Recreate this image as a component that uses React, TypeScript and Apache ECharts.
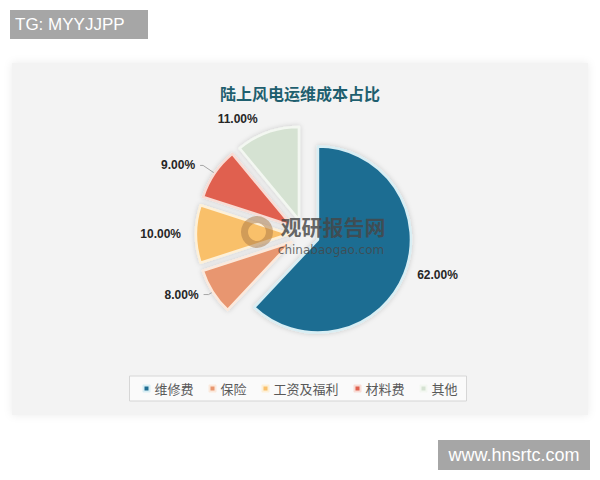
import React, { useEffect, useRef } from "react";
import * as echarts from "echarts";

const categories = ["维修费", "保险", "工资及福利", "材料费", "其他"];
const values = [62, 8, 10, 9, 11];
const colors = ["#1f6d92", "#e8966f", "#f9c06b", "#e0614f", "#d5e2d2"];
const borders = ["#d8eef4", "#fbe9dc", "#fdf0d8", "#f8dcd5", "#f3f7f1"];
const titleText = "陆上风电运维成本占比";

const lineLen = [4, 5, 5, 14, 14];
const lineLen2 = [4, 5, 5, 3, 0];

export default function App() {
  const ref = useRef<HTMLDivElement>(null);
  useEffect(() => {
    if (!ref.current) return;
    const chart = echarts.init(ref.current, undefined, { renderer: "svg" });
    const data = categories.map((name, i) => ({
      name,
      value: values[i],
      selected: true,
      itemStyle: { color: colors[i], borderColor: borders[i] },
      labelLine: {
        show: i === 1 || i === 3,
        length: lineLen[i],
        length2: lineLen2[i],
      },
    }));
    chart.setOption({
      animation: false,
      backgroundColor: "#ffffff",
      title: {
        text: titleText,
        left: "center",
        top: 80,
        textStyle: {
          fontFamily: "Noto Sans CJK SC",
          fontSize: 16,
          fontWeight: "bold",
          color: "#1f5f6f",
        },
      },
      legend: {
        data: categories,
        left: "center",
        top: 376,
        icon: "rect",
        itemWidth: 6,
        itemHeight: 6,
        itemGap: 15,
        borderColor: "#d6d6d6",
        borderWidth: 1,
        padding: [6, 9, 6, 13],
        backgroundColor: "#fafafa",
        selectedMode: false,
        textStyle: {
          fontFamily: "Noto Sans CJK SC",
          fontSize: 13,
          color: "#595959",
        },
      },
      graphic: [
        {
          type: "rect",
          z: -10,
          shape: { x: 12, y: 63, width: 576, height: 352 },
          style: {
            fill: "#f3f3f3",
            shadowBlur: 8,
            shadowColor: "rgba(0,0,0,0.08)",
          },
          silent: true,
        },
        {
          type: "rect",
          shape: { x: 10, y: 10, width: 138, height: 29 },
          style: { fill: "#a6a6a6" },
          silent: true,
        },
        {
          type: "text",
          x: 15,
          y: 24.5,
          style: {
            text: "TG: MYYJJPP",
            fill: "#ffffff",
            fontFamily: "Liberation Sans",
            fontSize: 17,
            verticalAlign: "middle",
          },
          silent: true,
        },
        {
          type: "rect",
          shape: { x: 438, y: 440, width: 152, height: 30 },
          style: { fill: "#a6a6a6" },
          silent: true,
        },
        {
          type: "text",
          x: 514,
          y: 455,
          style: {
            text: "www.hnsrtc.com",
            fill: "#ffffff",
            fontFamily: "Liberation Sans",
            fontSize: 18,
            align: "center",
            verticalAlign: "middle",
          },
          silent: true,
        },
        {
          type: "ring",
          z: 100,
          zlevel: 1,
          shape: { cx: 257, cy: 232, r: 16, r0: 9 },
          style: { fill: "rgba(170,120,70,0.5)" },
          silent: true,
        },
        {
          type: "text",
          z: 100,
          zlevel: 1,
          x: 333,
          y: 226,
          style: {
            text: "观研报告网",
            fill: "rgba(70,70,70,0.82)",
            fontFamily: "Noto Sans CJK SC",
            fontSize: 21,
            fontWeight: "bold",
            align: "center",
            verticalAlign: "middle",
          },
          silent: true,
        },
        {
          type: "text",
          z: 100,
          zlevel: 1,
          x: 331,
          y: 250,
          style: {
            text: "chinabaogao.com",
            fill: "rgba(70,70,70,0.78)",
            fontFamily: "DejaVu Sans",
            fontSize: 12,
            align: "center",
            verticalAlign: "middle",
          },
          silent: true,
        },
      ],
      series: [
        {
          type: "pie",
          center: [304, 234],
          radius: 93,
          startAngle: 90,
          clockwise: true,
          selectedMode: "multiple",
          selectedOffset: 15,
          data,
          itemStyle: {
            borderWidth: 2.5,
            shadowBlur: 5,
            shadowColor: "rgba(0,0,0,0.18)",
          },
          label: {
            show: true,
            position: "outside",
            formatter: (p: any) => Number(p.value).toFixed(2) + "%",
            fontFamily: "Liberation Sans",
            fontSize: 12,
            fontWeight: "bold",
            color: "#262626",
          },
          labelLine: {
            length: 5,
            length2: 5,
            lineStyle: { color: "#a6a6a6", width: 1 },
          },
          emphasis: { disabled: true },
        },
      ],
    });
    return () => chart.dispose();
  }, []);
  return (
    <div
      ref={ref}
      style={{ position: "absolute", left: 0, top: 0, width: 600, height: 480 }}
    />
  );
}
